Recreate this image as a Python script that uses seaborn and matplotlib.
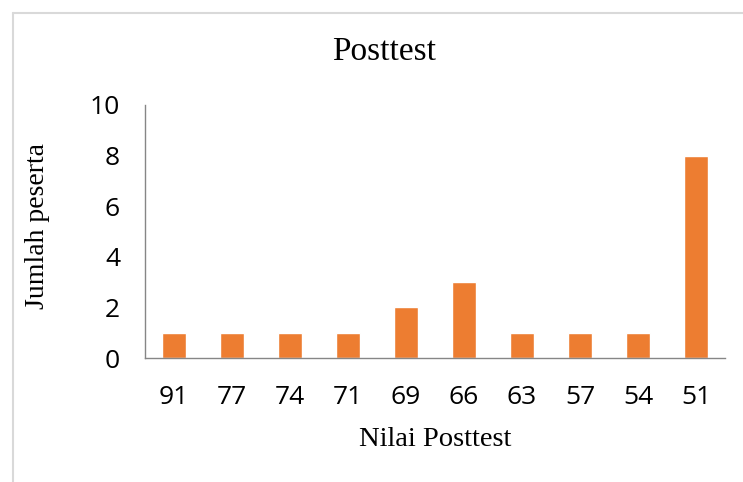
import matplotlib
matplotlib.use("Agg")
import matplotlib.pyplot as plt
import seaborn as sns
import pandas as pd
from matplotlib.lines import Line2D

categories = ["91", "77", "74", "71", "69", "66", "63", "57", "54", "51"]
counts = [1, 1, 1, 1, 2, 3, 1, 1, 1, 8]
yticks = [0, 2, 4, 6, 8, 10]

sns.set_style("white")
plt.rcParams['font.family'] = ['Open Sans', 'DejaVu Sans']

W, H = 743, 482
fig = plt.figure(figsize=(W / 100, H / 100), dpi=100)
ax = fig.add_axes([145 / W, 1 - 358 / H, (725 - 145) / W, (358 - 105) / H])

df = pd.DataFrame({"Nilai": categories, "Jumlah": counts})
sns.barplot(data=df, x="Nilai", y="Jumlah", order=categories, color="#ED7D31",
            saturation=1, width=0.4, ax=ax)

ax.set_xlim(-0.5, len(categories) - 0.5)
ax.set_ylim(0, 10)
ax.set_yticks(yticks)
ax.set_yticklabels([str(v) for v in yticks])
ax.tick_params(axis="both", length=0, labelsize=19, colors="black")
ax.tick_params(axis="y", pad=18)
ax.tick_params(axis="x", pad=19.5)
for s in ["top", "right"]:
    ax.spines[s].set_visible(False)
for s in ["left", "bottom"]:
    ax.spines[s].set_color("#868686")
    ax.spines[s].set_linewidth(1.0)
ax.set_xlabel("")
ax.set_ylabel("")
ax.grid(False)

serif = ["Liberation Serif", "DejaVu Serif"]
fig.text(384.5 / W, 1 - 52 / H, "Posttest", family=serif, fontsize=24,
         ha="center", va="center", color="black")
fig.text(435.5 / W, 1 - 439 / H, "Nilai Posttest", family=serif, fontsize=20.5,
         ha="center", va="center", color="black")
fig.text(38 / W, 1 - 226 / H, "Jumlah peserta", family=serif, fontsize=20,
         ha="center", va="center", rotation=90, color="black")

# chart area border (left and top edges visible)
fig.add_artist(Line2D([12.5 / W, 12.5 / W], [0, 1 - 12.5 / H], transform=fig.transFigure,
                      color="#d9d9d9", linewidth=1.5))
fig.add_artist(Line2D([12.5 / W, 1], [1 - 12.5 / H, 1 - 12.5 / H], transform=fig.transFigure,
                      color="#d9d9d9", linewidth=1.5))

fig.savefig("out.png", dpi=100)
